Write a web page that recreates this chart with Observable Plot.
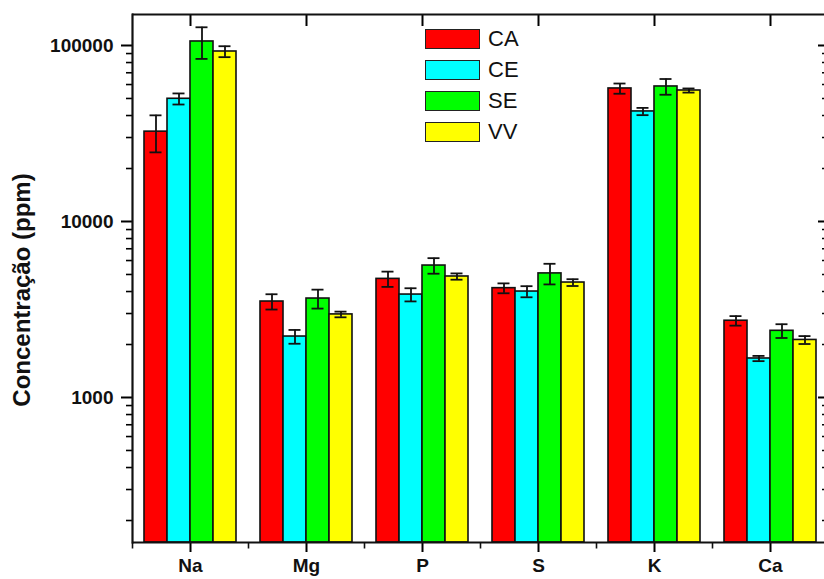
<!DOCTYPE html>
<html>
<head>
<meta charset="utf-8">
<script src="https://cdn.jsdelivr.net/npm/d3@7"></script>
<script src="https://cdn.jsdelivr.net/npm/@observablehq/plot@0.6"></script>
<style>
  html, body { margin: 0; padding: 0; background: #fff; overflow: hidden; }
  #wrap { position: relative; width: 824px; height: 579px; }
  #chart svg { display: block; }
  #chart svg text { font-family: "Liberation Sans", Arial, sans-serif; font-weight: bold; font-size: 19px; fill: #111; }
  #ylabel { position: absolute; left: 22px; top: 290px; transform: translate(-50%, -50%) rotate(-90deg);
    font-family: "Liberation Sans", Arial, sans-serif; font-weight: bold; font-size: 24px; white-space: nowrap; color: #111; }
  #legend { position: absolute; left: 425px; top: 28px; font-family: "Liberation Sans", Arial, sans-serif; font-size: 22px; color: #111; }
  .row { display: flex; align-items: center; height: 21px; margin-bottom: 10.3px; }
  .sw { width: 53px; height: 18px; border: 1.5px solid #222; margin-right: 8px; }
</style>
</head>
<body>
<div id="wrap">
  <div id="chart"></div>
  <div id="ylabel">Concentração (ppm)</div>
  <div id="legend"></div>
</div>
<script>
const categories = ["Na", "Mg", "P", "S", "K", "Ca"];
const seriesNames = ["CA", "CE", "SE", "VV"];
const seriesColors = ["#ff0000", "#00ffff", "#00ff00", "#ffff00"];

const caValues = [32400, 3510, 4720, 4180, 57000, 2730];
const ceValues = [49800, 2220, 3845, 4000, 42200, 1666];
const seValues = [105400, 3650, 5620, 5070, 58500, 2393];
const vvValues = [92450, 2965, 4870, 4500, 55500, 2123];

const caErrors = [7700, 350, 470, 270, 3800, 170];
const ceErrors = [3600, 200, 330, 290, 2000, 57];
const seErrors = [21500, 450, 570, 680, 6000, 215];
const vvErrors = [6600, 110, 200, 200, 1500, 110];

const yDomain = [150, 150000];
const majorTicks = [1000, 10000, 100000];
const minorTicks = [200, 300, 400, 500, 600, 700, 800, 900,
  2000, 3000, 4000, 5000, 6000, 7000, 8000, 9000,
  20000, 30000, 40000, 50000, 60000, 70000, 80000, 90000];

const valuesBySeries = [caValues, ceValues, seValues, vvValues];
const errorsBySeries = [caErrors, ceErrors, seErrors, vvErrors];
const data = [];
categories.forEach((el, i) => seriesNames.forEach((s, j) => {
  data.push({el, s, v: valuesBySeries[j][i], e: errorsBySeries[j][i]});
}));

const tickDown = {draw(ctx) { ctx.moveTo(0, 0); ctx.lineTo(0, 6); }};

const chart = Plot.plot({
  width: 824,
  height: 579,
  marginTop: 14,
  marginBottom: 37,
  marginLeft: 130,
  marginRight: -5,
  style: {background: "white", overflow: "hidden"},
  fx: {domain: categories, paddingInner: 0, paddingOuter: 0},
  x: {domain: seriesNames, paddingInner: 0, paddingOuter: 0.49, axis: null},
  y: {type: "log", domain: yDomain},
  color: {domain: seriesNames, range: seriesColors},
  marks: [
    Plot.barY(data, {fx: "el", x: "s", y1: yDomain[0], y2: "v", fill: "s", stroke: "#111", strokeWidth: 1.6}),
    Plot.ruleX(data, {fx: "el", x: "s", y1: d => d.v - d.e, y2: d => d.v + d.e, stroke: "#111", strokeWidth: 1.8}),
    Plot.tickY(data, {fx: "el", x: "s", y: d => d.v + d.e, inset: 5.5, stroke: "#111", strokeWidth: 1.8}),
    Plot.tickY(data, {fx: "el", x: "s", y: d => d.v - d.e, inset: 5.5, stroke: "#111", strokeWidth: 1.8}),
    Plot.axisY({anchor: "left", ticks: majorTicks, tickSize: 11, tickPadding: 8, strokeWidth: 2, tickFormat: d => String(d), label: null}),
    Plot.axisY({anchor: "left", ticks: minorTicks, tickSize: 6, strokeWidth: 1.6, tickFormat: () => "", label: null}),
    Plot.axisY({anchor: "right", ticks: majorTicks, tickSize: -11, strokeWidth: 2, tickFormat: () => "", label: null}),
    Plot.axisY({anchor: "right", ticks: minorTicks, tickSize: -7, strokeWidth: 1.6, tickFormat: () => "", label: null}),
    Plot.axisFx({anchor: "bottom", tickSize: 10, tickPadding: 6, strokeWidth: 2, label: null}),
    Plot.axisFx({anchor: "top", tickSize: -11, strokeWidth: 2, tickFormat: () => "", label: null}),
    Plot.dot([0], {frameAnchor: "bottom-left", symbol: tickDown, r: 3, fill: "none", stroke: "#111", strokeWidth: 1.6}),
    Plot.ruleY([yDomain[0]], {stroke: "#111", strokeWidth: 2.2}),
    Plot.ruleY([yDomain[1]], {stroke: "#111", strokeWidth: 2.2}),
    Plot.frame({anchor: "left", facetAnchor: "left", stroke: "#111", strokeWidth: 2.2}),
    Plot.frame({anchor: "right", facetAnchor: "right", stroke: "#111", strokeWidth: 2.2})
  ]
});
document.getElementById("chart").appendChild(chart);

const legend = document.getElementById("legend");
seriesNames.forEach((s, i) => {
  const row = document.createElement("div");
  row.className = "row";
  const sw = document.createElement("div");
  sw.className = "sw";
  sw.style.background = seriesColors[i];
  const t = document.createElement("span");
  t.textContent = s;
  row.appendChild(sw);
  row.appendChild(t);
  legend.appendChild(row);
});
</script>
</body>
</html>
